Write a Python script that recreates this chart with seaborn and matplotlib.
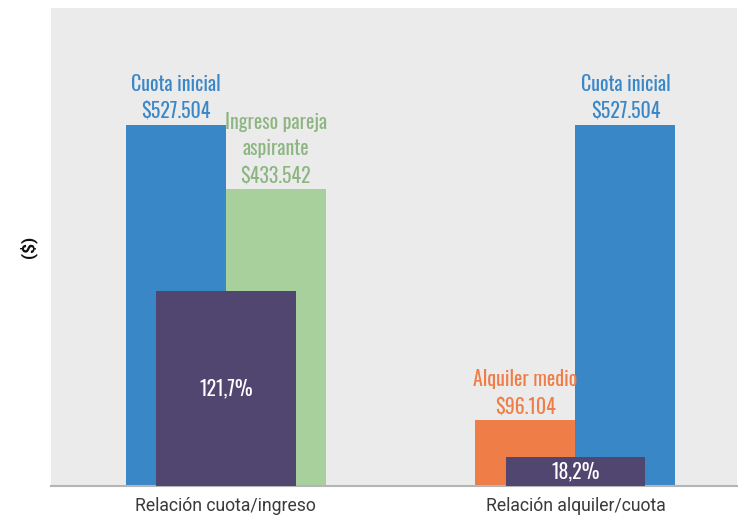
import matplotlib
matplotlib.use("Agg")
import matplotlib.pyplot as plt
import seaborn as sns
import pandas as pd

# Datos
categorias = ["Relación cuota/ingreso", "Relación alquiler/cuota"]
montos_izq = [527504, 96104]
montos_der = [433542, 527504]
nombres_izq = ["Cuota inicial", "Alquiler medio"]
nombres_der = ["Ingreso pareja\naspirante", "Cuota inicial"]
porcentajes = [121.7, 18.2]

azul = "#3a87c8"
verde = "#a8d09c"
naranja = "#ef7d47"
morado = "#514670"
colores_izq = [azul, naranja]
colores_der = [verde, azul]
texto_izq = [azul, naranja]
texto_der = ["#8db582", azul]

fuente = ["Oswald", "Roboto Condensed", "DejaVu Sans"]

sns.set_style("white")
plt.rcParams["font.family"] = ["Roboto", "DejaVu Sans"]

df = pd.DataFrame({
    "categoria": categorias * 2,
    "lado": ["izq"] * 2 + ["der"] * 2,
    "monto": montos_izq + montos_der,
})

fig = plt.figure(figsize=(7.38, 5.16), dpi=100)
ax = fig.add_axes([51 / 738, 30 / 516, 686 / 738, 478 / 516])
ax.set_facecolor("#ebebeb")

sns.barplot(data=df, x="categoria", y="monto", hue="lado", hue_order=["izq", "der"],
            width=0.572, dodge=True, legend=False, saturation=1, linewidth=0,
            palette=[azul, verde], ax=ax)

def fmt(v):
    return "$" + f"{v:,}".replace(",", ".")

for cont, colores, nombres, vals, tcol in [
        (ax.containers[0], colores_izq, nombres_izq, montos_izq, texto_izq),
        (ax.containers[1], colores_der, nombres_der, montos_der, texto_der)]:
    for bar, c, n, v, tc in zip(cont, colores, nombres, vals, tcol):
        bar.set_facecolor(c)
        ax.annotate(n + "\n" + fmt(v), (bar.get_x() + bar.get_width() / 2, bar.get_height()),
                    xytext=(0, 3), textcoords="offset points", ha="center", va="bottom",
                    fontsize=14.3, color=tc, family=fuente, fontweight="light",
                    linespacing=1.4)

ax2 = ax.twinx()
sns.barplot(x=categorias, y=porcentajes, color=morado, width=0.4, saturation=1,
            linewidth=0, ax=ax2)
for bar, p in zip(ax2.containers[0], porcentajes):
    ax2.text(bar.get_x() + bar.get_width() / 2, bar.get_height() / 2,
             f"{p:.1f}%".replace(".", ","), ha="center", va="center",
             fontsize=14.3, color="white", family=fuente, fontweight="light")

ax.set_ylim(0, 698470)
ax2.set_ylim(0, 298.3)
ax.set_xlim(-0.5, 1.462)

for a in (ax, ax2):
    for s in ["top", "right", "left"]:
        a.spines[s].set_visible(False)
    a.set_yticks([])
    a.set_ylabel("")
ax2.spines["bottom"].set_visible(False)
ax.spines["bottom"].set_color("#b5b5b5")
ax.spines["bottom"].set_linewidth(1.5)
ax.set_xlabel("")
ax.tick_params(axis="x", length=0, pad=8, labelsize=12.7, labelcolor="#3a3a3a")
ax.set_ylabel("($)", fontsize=12.5, fontweight="bold", color="#111111")
ax.yaxis.set_label_coords(-0.02, 0.5)

fig.savefig("out.png", dpi=100)
